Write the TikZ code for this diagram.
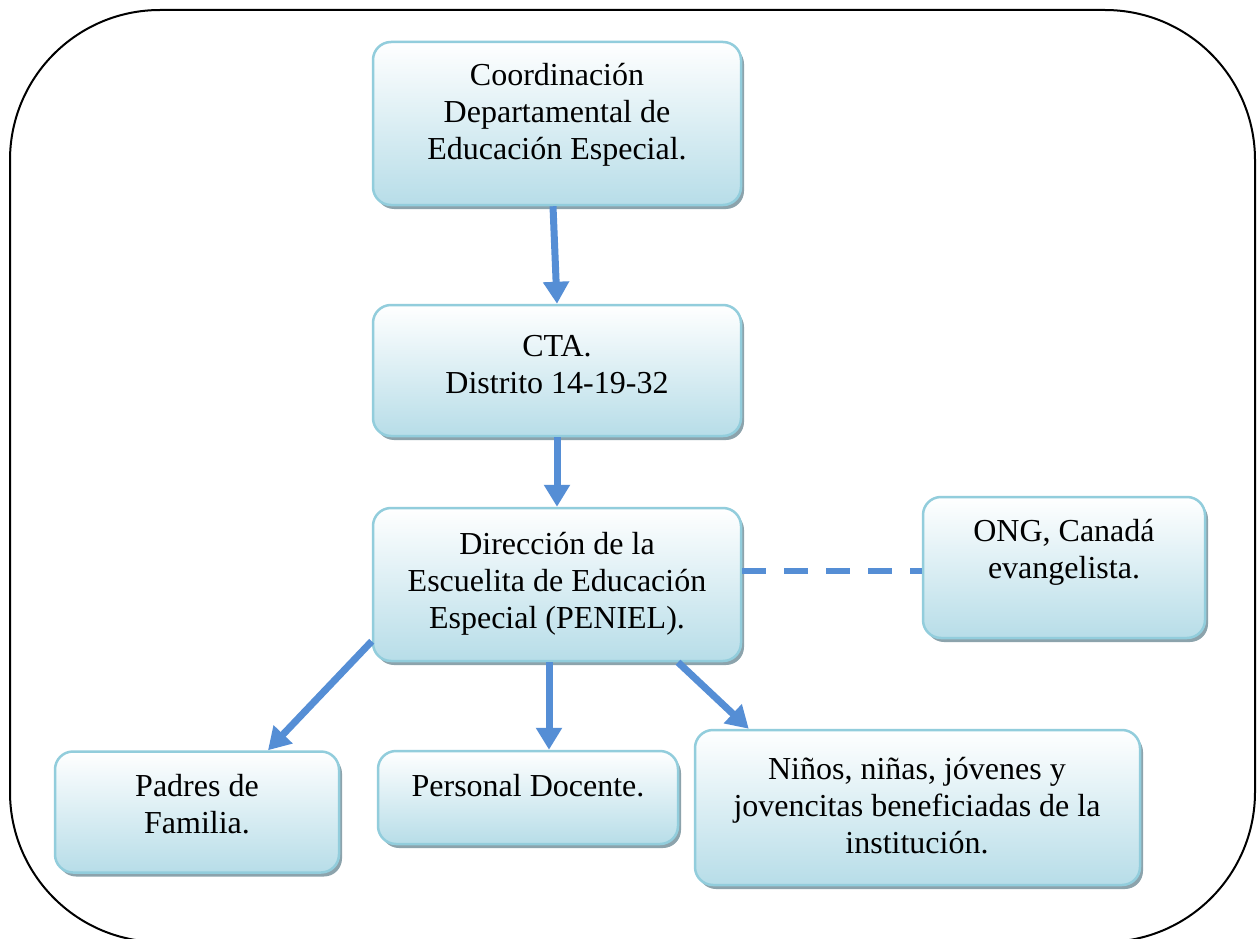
\documentclass[tikz,border=0pt]{standalone}
\usepackage{fontspec}
\setmainfont{Liberation Serif}
\usetikzlibrary{shadows,arrows.meta}
\definecolor{arrowblue}{RGB}{85,142,213}
\definecolor{boxborder}{RGB}{146,205,220}
\definecolor{boxbottom}{RGB}{183,221,232}
\definecolor{boxshadow}{RGB}{140,163,172}
\begin{document}
\begin{tikzpicture}[x=1pt,y=-1pt,
  orgbox/.style={draw=boxborder, line width=2.5pt, rounded corners=18pt,
    top color=white, bottom color=boxbottom,
    drop shadow={shadow xshift=3pt, shadow yshift=-4pt, fill=boxshadow, opacity=1},
    inner sep=0pt},
  boxtext/.style={align=center, font=\fontsize{32}{37}\selectfont, inner sep=0pt},
  flow/.style={draw=arrowblue, line width=7pt, -{Triangle[length=22pt,width=25pt]}},
  link/.style={draw=arrowblue, line width=6pt, dash pattern=on 24pt off 18pt}]
\clip (0,0) rectangle (1259,939);
\fill[white] (0,0) rectangle (1259,939);
\draw[line width=2pt, rounded corners=150pt] (10,10) rectangle (1255,942);

\node[orgbox, minimum width=368pt, minimum height=163pt] (b1) at (557,123.5) {};
\node[orgbox, minimum width=368pt, minimum height=131pt] (b2) at (557,370.5) {};
\node[orgbox, minimum width=368pt, minimum height=153pt] (b3) at (557,584.5) {};
\node[orgbox, minimum width=282pt, minimum height=141pt] (ong) at (1064,567.5) {};
\node[orgbox, minimum width=284pt, minimum height=121pt] (pad) at (197,812) {};
\node[orgbox, minimum width=300pt, minimum height=93pt] (per) at (528,797.5) {};
\node[orgbox, minimum width=445pt, minimum height=155pt] (nin) at (917.5,807.5) {};

\node[boxtext] (t1) at (557,115) {Coordinación\\Departamental de\\Educación Especial.};
\node[boxtext] (t2) at (557,365) {CTA.\\Distrito 14-19-32};
\node[boxtext] (t3) at (557,584) {Dirección de la\\Escuelita de Educación\\Especial (PENIEL).};
\node[boxtext] (t4) at (1064,552.5) {ONG, Canadá\\evangelista.};
\node[boxtext] (t5) at (197,804.5) {Padres de\\Familia.};
\node[boxtext] (t6) at (528,786) {Personal Docente.};
\node[boxtext] (t7) at (917,806) {Niños, niñas, jóvenes y\\jovencitas beneficiadas de la\\institución.};

\draw[flow] ([xshift=-4pt]b1.south) -- (b2.north);
\draw[flow] (b2.south) -- (b3.north);
\draw[flow] ([yshift=21pt]b3.south west) -- ([xshift=71pt]pad.north);
\draw[flow] ([xshift=-8pt]b3.south) -- ([xshift=21pt]per.north);
\draw[flow] ([xshift=121pt]b3.south) -- ([xshift=55pt]nin.north west);
\draw[link] ([yshift=13.5pt]b3.east) -- ([yshift=-3.5pt]ong.west);
\end{tikzpicture}
\end{document}
